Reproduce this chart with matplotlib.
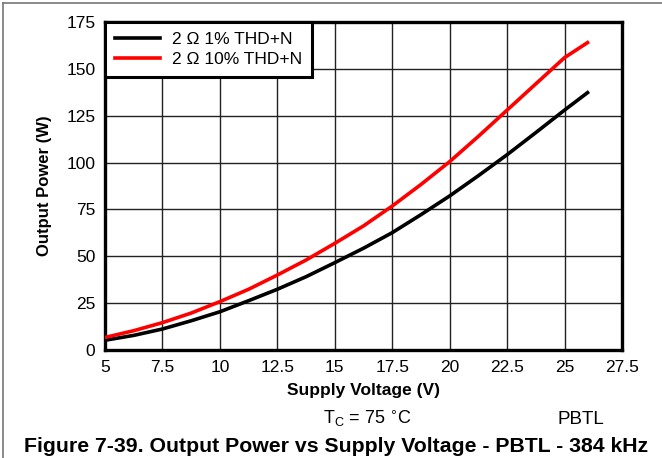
import matplotlib
matplotlib.use("Agg")
import matplotlib.pyplot as plt
from matplotlib.lines import Line2D

plt.rcParams['font.family'] = ['Liberation Sans', 'DejaVu Sans']

# supply voltage (V) and output power (W) for the two THD+N limits
supply_v = [5, 6.25, 7.5, 8.75, 10, 11.25, 12.5, 13.75, 15, 16.25, 17.5,
            18.75, 20, 21.25, 22.5, 23.75, 25, 26]
power_1pct = [5.2, 7.8, 11.2, 15.6, 20.4, 26.3, 32.4, 39.1, 46.6, 54.3, 62.6,
              72.2, 82.2, 93.0, 104.2, 116.0, 128.0, 137.3]
power_10pct = [6.7, 10.3, 14.6, 19.7, 25.8, 32.4, 40.0, 48.0, 56.9, 66.2, 76.8,
               88.3, 100.5, 114.0, 128.0, 142.0, 156.0, 164.0]

x_ticks = [5, 7.5, 10, 12.5, 15, 17.5, 20, 22.5, 25, 27.5]
x_tick_labels = ['5', '7.5', '10', '12.5', '15', '17.5', '20', '22.5', '25', '27.5']
y_ticks = [0, 25, 50, 75, 100, 125, 150, 175]

fig = plt.figure(figsize=(6.62, 4.58), dpi=100)
ax = fig.add_axes([105/662, 1 - 350/458, 517/662, 328/458])

ax.plot(supply_v, power_1pct, color='black', lw=2.6, label='2 \u03a9 1% THD+N',
        zorder=3)
ax.plot(supply_v, power_10pct, color='#ff0000', lw=2.6, label='2 \u03a9 10% THD+N',
        zorder=3)

ax.set_xlim(5, 27.5)
ax.set_ylim(0, 175)
ax.set_xticks(x_ticks)
ax.set_xticklabels(x_tick_labels)
ax.set_yticks(y_ticks)
ax.tick_params(length=0, labelsize=12.5, pad=7)
ax.grid(True, color='#222222', lw=1.0)
ax.set_axisbelow(True)
for sp in ax.spines.values():
    sp.set_linewidth(2.4)

ax.set_xlabel('Supply Voltage (V)', fontsize=12.5, fontweight='bold', labelpad=6)
ax.set_ylabel('Output Power (W)', fontsize=12, fontweight='bold', labelpad=10)

leg = ax.legend(loc='upper left', bbox_to_anchor=(0, 1), fontsize=12.5,
                frameon=True, fancybox=False, framealpha=1, borderaxespad=0,
                handlelength=2.6, handletextpad=0.7, borderpad=0.55,
                labelspacing=0.3)
leg.get_frame().set_edgecolor('black')
leg.get_frame().set_linewidth(2.2)
leg.set_zorder(5)

fig.text(368/662, 1 - 419/458, r'T$_\mathregular{C}$ = 75 $^{\circ}$C',
         ha='center', va='center', fontsize=13)
fig.text(581/662, 1 - 419/458, 'PBTL', ha='center', va='center', fontsize=13.5)
fig.text(336/662, 1 - 447/458,
         'Figure 7-39. Output Power vs Supply Voltage - PBTL - 384 kHz',
         ha='center', va='center', fontsize=15.3, fontweight='bold')

# page frame lines along the top and left edge
fig.add_artist(Line2D([3/662, 1], [1 - 3/458, 1 - 3/458], color='#777777', lw=1.2))
fig.add_artist(Line2D([3/662, 3/662], [0, 1 - 3/458], color='#777777', lw=1.2))

fig.savefig('out.png', dpi=100)
